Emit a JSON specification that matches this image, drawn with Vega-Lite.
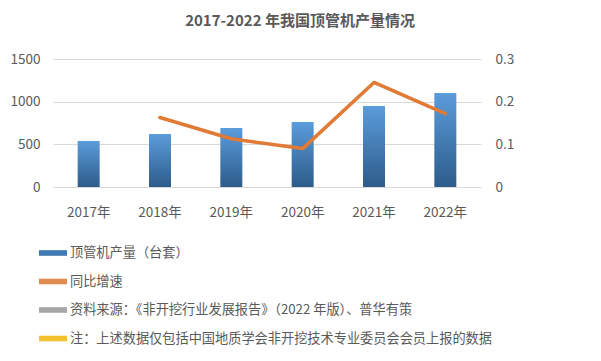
{
  "$schema": "https://vega.github.io/schema/vega-lite/v6.json",
  "width": 428,
  "height": 128,
  "autosize": "none",
  "padding": {"left": 53, "top": 59, "right": 120, "bottom": 174},
  "background": "white",
  "title": {
    "text": "2017-2022 年我国顶管机产量情况",
    "font": "Noto Sans CJK SC",
    "fontSize": 15,
    "fontWeight": "bold",
    "color": "#595959",
    "anchor": "middle",
    "dx": 33,
    "offset": 23
  },
  "config": {
    "view": {"stroke": null},
    "font": "Noto Sans CJK SC",
    "axis": {
      "labelFont": "Noto Sans CJK SC",
      "labelFontSize": 13.5,
      "labelColor": "#595959",
      "ticks": false,
      "domain": false,
      "gridColor": "#d9d9d9",
      "gridWidth": 1
    }
  },
  "datasets": {
    "main": [
      {"year": "2017年", "output": 539, "growth": null},
      {"year": "2018年", "output": 621, "growth": 0.163},
      {"year": "2019年", "output": 691, "growth": 0.113},
      {"year": "2020年", "output": 762, "growth": 0.09},
      {"year": "2021年", "output": 949, "growth": 0.245},
      {"year": "2022年", "output": 1102, "growth": 0.172}
    ],
    "legend": [
      {"s": "顶管机产量（台套）"},
      {"s": "同比增速"},
      {"s": "资料来源：《非开挖行业发展报告》（2022 年版）、普华有策"},
      {"s": "注：上述数据仅包括中国地质学会非开挖技术专业委员会会员上报的数据"}
    ]
  },
  "layer": [
    {
      "data": {"name": "main"},
      "mark": {
        "type": "bar",
        "width": 22,
        "color": {
          "gradient": "linear",
          "x1": 0, "y1": 0, "x2": 0, "y2": 1,
          "stops": [
            {"offset": 0, "color": "#5b9cdb"},
            {"offset": 1, "color": "#2d5c8a"}
          ]
        }
      },
      "encoding": {
        "x": {
          "field": "year",
          "type": "nominal",
          "sort": null,
          "title": null,
          "axis": {"labelAngle": 0, "labelPadding": 18, "grid": false}
        },
        "y": {
          "field": "output",
          "type": "quantitative",
          "title": null,
          "scale": {"domain": [0, 1500], "nice": false},
          "axis": {"values": [0, 500, 1000, 1500], "format": "d", "labelPadding": 13, "grid": true, "orient": "left"}
        }
      }
    },
    {
      "data": {"name": "main"},
      "mark": {"type": "line", "color": "#e07a35", "strokeWidth": 3.5, "strokeCap": "round", "strokeJoin": "round"},
      "encoding": {
        "x": {"field": "year", "type": "nominal", "sort": null},
        "y": {
          "field": "growth",
          "type": "quantitative",
          "title": null,
          "scale": {"domain": [0, 0.3], "nice": false},
          "axis": {"values": [0, 0.1, 0.2, 0.3], "format": "~g", "labelPadding": 14, "grid": false, "orient": "right"}
        }
      }
    },
    {
      "data": {"name": "legend"},
      "mark": {"type": "point", "opacity": 0, "filled": true},
      "encoding": {
        "color": {
          "field": "s",
          "type": "nominal",
          "sort": null,
          "scale": {"range": ["#3f79b4", "#e08a50", "#a5a5a5", "#f2c12e"]},
          "legend": {
            "title": null,
            "orient": "none",
            "legendX": -14,
            "legendY": 180,
            "direction": "vertical",
            "symbolType": "M-1,-0.2H1V0.2H-1Z",
            "symbolSize": 784,
            "symbolOpacity": 1,
            "symbolStrokeWidth": 0,
            "rowPadding": 7.5,
            "labelOffset": 3,
            "labelFont": "Noto Sans CJK SC",
            "labelFontSize": 13.2,
            "labelColor": "#595959",
            "labelLimit": 600,
            "padding": 0
          }
        }
      }
    }
  ],
  "resolve": {"scale": {"y": "independent"}}
}
